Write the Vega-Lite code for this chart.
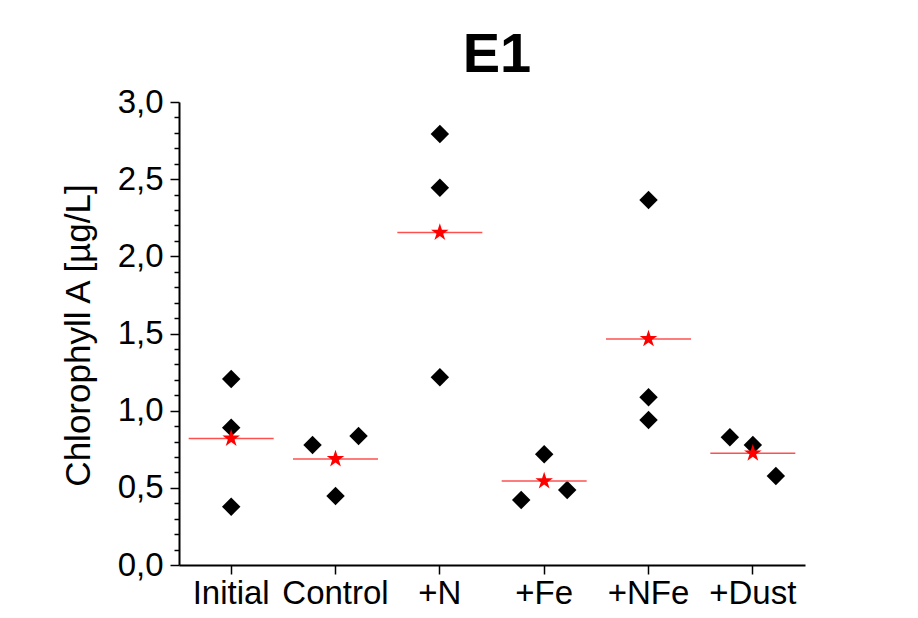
{
  "$schema": "https://vega.github.io/schema/vega-lite/v6.json",
  "width": 626,
  "height": 463,
  "autosize": {"type": "none"},
  "padding": {"left": 179, "top": 102, "right": 113, "bottom": 53},
  "background": "white",
  "config": {"view": {"stroke": null}, "font": "Liberation Sans"},
  "title": {"text": "E1", "fontSize": 56, "fontWeight": "bold", "font": "Liberation Sans", "color": "black", "anchor": "middle", "offset": 2, "dx": 5},
  "datasets": {
    "points": [
      {"treatment": "Initial", "side": "C", "chl": 1.205},
      {"treatment": "Initial", "side": "C", "chl": 0.89},
      {"treatment": "Initial", "side": "C", "chl": 0.378},
      {"treatment": "Control", "side": "L", "chl": 0.778},
      {"treatment": "Control", "side": "R", "chl": 0.836},
      {"treatment": "Control", "side": "C", "chl": 0.447},
      {"treatment": "+N", "side": "C", "chl": 2.793},
      {"treatment": "+N", "side": "C", "chl": 2.445},
      {"treatment": "+N", "side": "C", "chl": 1.216},
      {"treatment": "+Fe", "side": "L", "chl": 0.421},
      {"treatment": "+Fe", "side": "C", "chl": 0.717},
      {"treatment": "+Fe", "side": "R", "chl": 0.486},
      {"treatment": "+NFe", "side": "C", "chl": 2.365},
      {"treatment": "+NFe", "side": "C", "chl": 1.087},
      {"treatment": "+NFe", "side": "C", "chl": 0.94},
      {"treatment": "+Dust", "side": "L", "chl": 0.828},
      {"treatment": "+Dust", "side": "C", "chl": 0.778},
      {"treatment": "+Dust", "side": "R", "chl": 0.577}
    ],
    "means": [
      {"treatment": "Initial", "chl": 0.82},
      {"treatment": "Control", "chl": 0.687},
      {"treatment": "+N", "chl": 2.154},
      {"treatment": "+Fe", "chl": 0.544},
      {"treatment": "+NFe", "chl": 1.465},
      {"treatment": "+Dust", "chl": 0.724}
    ]
  },
  "encoding": {
    "x": {
      "field": "treatment", "type": "nominal",
      "sort": ["Initial", "Control", "+N", "+Fe", "+NFe", "+Dust"],
      "scale": {"type": "band", "paddingInner": 0, "paddingOuter": 0},
      "axis": {
        "title": null, "labelFontSize": 33, "labelColor": "black", "labelAngle": 0,
        "labelPadding": 3, "tickSize": 9, "tickColor": "black", "tickWidth": 1.5,
        "domainColor": "black", "domainWidth": 2, "labelOverlap": false,
        "labelFont": "Liberation Sans", "grid": false
      }
    },
    "y": {
      "field": "chl", "type": "quantitative",
      "scale": {"domain": [0, 3], "nice": false, "zero": true},
      "axis": {
        "title": "Chlorophyll A [µg/L]",
        "values": [0, 0.1, 0.2, 0.3, 0.4, 0.5, 0.6, 0.7, 0.8, 0.9, 1, 1.1, 1.2, 1.3, 1.4, 1.5, 1.6, 1.7, 1.8, 1.9, 2, 2.1, 2.2, 2.3, 2.4, 2.5, 2.6, 2.7, 2.8, 2.9, 3],
        "labelExpr": "abs(datum.value*2 - round(datum.value*2)) < 0.001 ? replace(format(datum.value, '.1f'), '.', ',') : ''",
        "labelFontSize": 33, "labelColor": "black", "labelFont": "Liberation Sans",
        "labelPadding": 7,
        "tickSize": {"condition": {"test": "abs(datum.value*2 - round(datum.value*2)) < 0.001", "value": 9}, "value": 5},
        "tickColor": "black", "tickWidth": 1.5,
        "domainColor": "black", "domainWidth": 2, "grid": false, "labelOverlap": false,
        "titleFontSize": 35, "titleFontWeight": "normal", "titleColor": "black", "titleFont": "Liberation Sans",
        "titleX": -101, "titleY": 233, "titleAngle": -90, "titleBaseline": "middle", "titleAlign": "center"
      }
    }
  },
  "layer": [
    {
      "data": {"name": "points"},
      "mark": {"type": "point", "shape": "diamond", "filled": true, "size": 340, "color": "black", "opacity": 1},
      "encoding": {
        "xOffset": {
          "field": "side", "type": "nominal",
          "scale": {"type": "band", "domain": ["L", "C", "R"], "range": [17.7, 86.7], "paddingInner": 0, "paddingOuter": 0}
        }
      }
    },
    {
      "data": {"name": "means"},
      "mark": {"type": "tick", "orient": "horizontal", "size": 85, "thickness": 1.5, "color": "#ff5050", "opacity": 1}
    },
    {
      "data": {"name": "means"},
      "mark": {"type": "point", "shape": "M0,-1L0.2245,-0.309L0.951,-0.309L0.363,0.118L0.588,0.809L0,0.382L-0.588,0.809L-0.363,0.118L-0.951,-0.309L-0.2245,-0.309Z", "filled": true, "size": 340, "color": "#ff0000", "opacity": 1}
    }
  ]
}
